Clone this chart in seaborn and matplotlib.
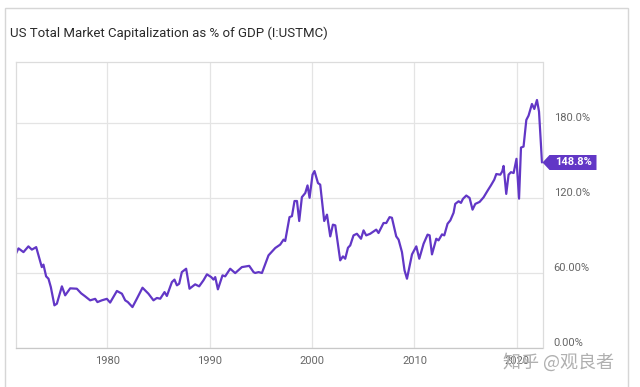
import matplotlib
matplotlib.use("Agg")
import matplotlib.pyplot as plt
import seaborn as sns
import pandas as pd
from matplotlib.path import Path
from matplotlib.patches import Rectangle

# ---- data ----
years = [1971.11, 1971.34, 1971.83, 1972.31, 1972.65, 1973.07, 1973.62, 1973.78, 1974.04, 1974.27,
         1974.50, 1974.85, 1975.09, 1975.58, 1975.90, 1976.39, 1977.04, 1977.46, 1977.85, 1978.34,
         1978.83, 1979.05, 1979.48, 1979.97, 1980.29, 1980.95, 1981.44, 1981.76,
         1982.02, 1982.47, 1982.90, 1983.45, 1984.03, 1984.52, 1984.85, 1985.18, 1985.60, 1985.83,
         1986.32, 1986.57, 1986.81, 1987.03, 1987.29, 1987.71, 1988.04, 1988.59, 1988.98, 1989.40,
         1989.74, 1990.16, 1990.38, 1990.55, 1990.81, 1991.26, 1991.52, 1992.01, 1992.50, 1993.15,
         1993.87, 1994.29,
         1994.45, 1994.78, 1995.11, 1995.75, 1996.41, 1996.89, 1997.22, 1997.38, 1997.80, 1998.04,
         1998.29, 1998.53, 1998.75, 1999.01, 1999.34, 1999.56, 1999.76, 2000.05, 2000.24, 2000.58,
         2000.80, 2001.19, 2001.46, 2001.78, 2002.04, 2002.27, 2002.75, 2003.02, 2003.24, 2003.51,
         2003.73, 2004.05, 2004.38,
         2004.78, 2005.03, 2005.29, 2005.68, 2006.27, 2006.49, 2006.98, 2007.25, 2007.57, 2007.80,
         2008.22, 2008.45, 2008.78, 2009.03, 2009.27, 2009.52, 2009.76, 2010.18, 2010.47, 2010.89,
         2011.28, 2011.48, 2011.71, 2012.13, 2012.35, 2012.69, 2012.91, 2013.23, 2013.50,
         2013.82, 2013.98, 2014.31, 2014.54, 2014.73, 2015.06, 2015.38, 2015.67, 2015.94, 2016.36,
         2016.75, 2017.14, 2017.47, 2017.79, 2017.99, 2018.38, 2018.57, 2018.70, 2018.96, 2019.19,
         2019.42, 2019.68, 2019.96, 2020.21, 2020.40, 2020.65, 2020.92, 2021.14, 2021.47, 2021.70,
         2021.96, 2022.16, 2022.45]

values = [76, 80, 77, 81.6, 79, 81, 65, 67, 57.6, 55.7,
          49, 34.4, 35.7, 49.6, 42.4, 48, 47.7, 44, 41.6, 38.4,
          39.6, 37, 38.4, 39.6, 36.6, 45.9, 43.7, 38.4,
          37, 33, 39.7, 48.5, 43.7, 38.4, 40.3, 39.7, 45, 41.9,
          53, 55, 50.4, 51.7, 61, 63.7, 47.7, 51.2, 49.6, 54.4,
          59.2, 57, 55, 57, 47.2, 58.4, 57.6, 63.7, 60.2, 65,
          66, 61,
          60.3, 61, 60.3, 74.4, 80.3, 83, 87, 85.9, 105, 105.8,
          117.9, 117.9, 101.9, 121, 124.3, 130.4, 120.5, 139, 141.9, 132.3,
          131, 101.9, 107, 89.6, 99, 98.4, 70.4, 73.6, 71.7, 80.5,
          82.4, 90.4, 91.7,
          87.7, 94.4, 90.4, 91.7, 95, 92.3, 100.3, 100.3, 105, 104.5,
          89.6, 87, 77, 62.4, 55.7, 65.6, 75.2, 81.6, 71.7, 83.7,
          91, 90.4, 75.2, 87.7, 86.4, 91.2, 90.4, 99.7, 102.4,
          108.5, 115.6, 117.7, 116.4, 119.6, 122.3, 120.4, 111, 115.6, 117.2,
          120.9, 126.2, 130.5, 135, 139.5, 139, 141.6, 146, 123.6, 139,
          141, 140.3, 151.7, 119.8, 160.7, 161.5, 182.8, 186.3, 195.6, 191.6,
          198.8, 189.5, 148.8]

title = "US Total Market Capitalization as % of GDP (I:USTMC)"
xticks = [1980, 1990, 2000, 2010, 2020]
yticks = [0, 60, 120, 180]
ytick_labels = ["0.00%", "60.00%", "120.0%", "180.0%"]
last_label = "148.8%"
watermark = "知乎 @观良者"

PURPLE = "#6237c6"

sns.set_theme(style="white")
plt.rcParams['font.family'] = ['Roboto', 'DejaVu Sans']

fig = plt.figure(figsize=(6.4, 3.87), dpi=100)
fig.patch.set_facecolor("white")

# card border
fig.patches.append(Rectangle((5 / 640, -0.1), 623 / 640, 1.1 - 8 / 387,
                             transform=fig.transFigure, fill=False,
                             edgecolor="#d6d6d6", linewidth=1.0))

ax = fig.add_axes([16 / 640, 1 - 348.3 / 387, (542.5 - 16) / 640, (348.3 - 62) / 387])

df = pd.DataFrame({"year": years, "value": values})
sns.lineplot(data=df, x="year", y="value", ax=ax, color=PURPLE, linewidth=1.6)

ax.set_xlim(1971.1, 2022.5)
ax.set_ylim(0, 229.2)
ax.set_xlabel("")
ax.set_ylabel("")

ax.set_xticks(xticks)
ax.set_xticklabels([str(x) for x in xticks])
ax.yaxis.tick_right()
ax.set_yticks(yticks)
ax.set_yticklabels(ytick_labels)
for lab in ax.get_yticklabels():
    lab.set_verticalalignment("bottom")

ax.tick_params(axis="x", length=0, pad=5.5, labelsize=8, labelcolor="#666666")
ax.tick_params(axis="y", length=0, pad=8, labelsize=8, labelcolor="#666666")

ax.grid(True, color="#e4e4e4", linewidth=0.9)
for side, sp in ax.spines.items():
    sp.set_visible(True)
    sp.set_color("#dcdcdc")
    sp.set_linewidth(0.9)
ax.spines["bottom"].set_color("#c8c8c8")

# last value tag
W, H, A = 54.0, 15.0, 7.0
tag = Path([(0, 0), (A, H / 2), (W, H / 2), (W, -H / 2), (A, -H / 2), (0, 0)],
           [Path.MOVETO, Path.LINETO, Path.LINETO, Path.LINETO, Path.LINETO, Path.CLOSEPOLY])
ax.plot([years[-1]], [values[-1]], marker=tag, markersize=2 * W * 0.72,
        color=PURPLE, markeredgewidth=0, clip_on=False, linestyle="none", zorder=5)
ax.annotate(last_label, xy=(years[-1], values[-1]), xytext=(22.5, 0),
            textcoords="offset points", ha="center", va="center",
            color="white", fontweight="bold", fontsize=8, annotation_clip=False, zorder=6)

fig.text(10 / 640, 1 - 33 / 387, title, fontsize=9.5, color="#2a2a2a", va="center", ha="left")

fig.text(503 / 640, 1 - 362 / 387, watermark, family=["Noto Sans CJK SC", "DejaVu Sans"],
         fontsize=13, color="#b0b0b0", va="center", ha="left")

fig.savefig("out.png", dpi=100, facecolor="white")
